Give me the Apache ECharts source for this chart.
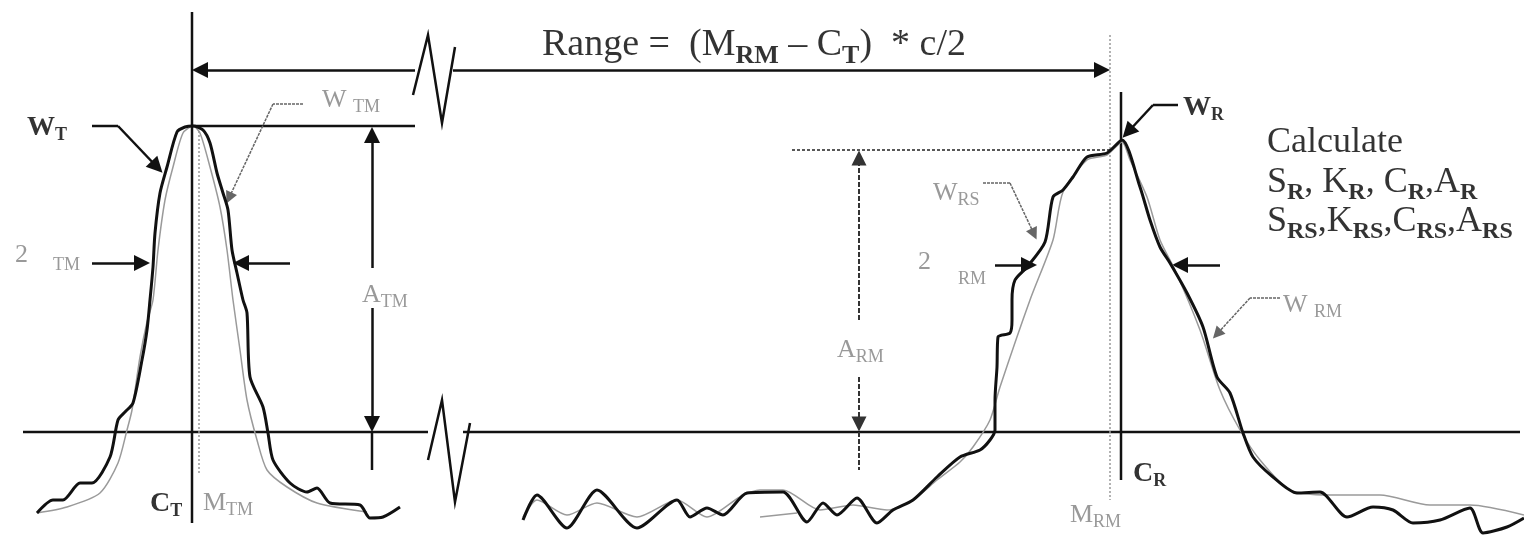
<!DOCTYPE html>
<html><head><meta charset="utf-8">
<script src="https://cdn.jsdelivr.net/npm/echarts@6/dist/echarts.min.js"></script>
<style>html,body{margin:0;padding:0;background:#fff}#c{width:1524px;height:536px}</style>
</head><body><div id="c"></div>
<script>
// ---- waveform data: [time, amplitude] ----
const targetMeasured = [[37,-81],[53,-68],[63,-68],[80,-51],[92,-51],[110,-25],[118,12],[125,20],[133,29],[142,72],[147,102],[150,132],[153,165],[155,199],[160,239],[167,265],[177,300],[185,305],[193,306],[203,302],[210,289],[217,259],[223,239],[228,222],[232,182],[237,159],[243,132],[247,119],[250,55],[263,25],[268,-1],[273,-28],[290,-51],[307,-60],[317,-56],[330,-71],[360,-73],[370,-86],[383,-85],[400,-75]];
const targetSmoothed = [[37,-81],[67,-75],[100,-61],[118,-31],[127,2],[132,22],[140,75],[147,110],[153,132],[158,182],[165,232],[173,265],[183,299],[193,306],[200,299],[210,265],[220,225],[227,182],[233,132],[240,82],[247,32],[257,-8],[267,-38],[287,-55],[317,-71],[367,-80]];
const returnMeasured = [[523,-88],[537,-63],[567,-96],[597,-58],[637,-96],[677,-68],[690,-85],[707,-76],[723,-83],[747,-61],[783,-60],[807,-90],[823,-71],[837,-83],[857,-66],[877,-91],[893,-78],[913,-68],[937,-45],[960,-25],[980,-18],[990,-8],[995,2],[995,32],[997,65],[998,95],[1010,99],[1012,112],[1012,132],[1015,152],[1027,165],[1045,190],[1053,235],[1063,242],[1073,255],[1087,275],[1107,279],[1122,292],[1140,245],[1150,212],[1160,185],[1170,169],[1187,139],[1203,105],[1217,55],[1230,39],[1243,-1],[1253,-25],[1273,-45],[1297,-61],[1320,-60],[1347,-85],[1373,-75],[1393,-78],[1413,-91],[1440,-88],[1470,-76],[1483,-101],[1507,-95],[1524,-86]];
const returnSmoothed = [[523,-85],[537,-68],[567,-83],[597,-71],[637,-85],[677,-68],[707,-85],[740,-65],[760,-58],[783,-58],[820,-78],[853,-73],[887,-78],[913,-68],[937,-48],[960,-30],[973,-15],[990,12],[1000,45],[1030,132],[1053,192],[1063,240],[1087,272],[1107,277],[1122,290],[1130,272],[1147,235],[1160,192],[1175,162],[1200,102],[1220,42],[1240,2],[1260,-28],[1290,-58],[1330,-63],[1380,-63],[1430,-73],[1470,-73],[1524,-83]];
const smoothedStub = [[760,-85],[797,-81]];

// ---- reference / construction lines ----
const solidLines = [
  [[23,0],[428,0]], [[463,0],[1520,0]],                 // baseline (broken)
  [[192,420],[192,-91]],                                  // C_T
  [[1121,340],[1121,-48]],                                // C_R
  [[192,306],[415,306]],                                  // target peak level
  [[413,337],[428,397],[442,309],[455,385]],              // upper break mark
  [[428,-28],[442,32],[455,-70],[470,9]],                 // lower break mark
  [[92,306],[118,306]],                                   // W_T leader
  [[1178,327],[1153,327]],                                // W_R leader
  [[372,0],[372,-38]]                                     // A_TM tail
];
const arrowLines = [
  [[415,362],[200,362]], [[453,362],[1102,362]],         // range arrow
  [[118,306],[157,265]],                                  // W_T
  [[1153,327],[1128,300]],                                // W_R
  [[92,169],[142,169]], [[290,169],[241,169]],            // 2σ_TM
  [[995,167],[1029,167]], [[1220,167],[1180,167]],        // 2σ_RM
  [[372,164],[372,297]], [[372,124],[372,8]]              // A_TM
];
const dashedArrowLines = [
  [[859,112],[859,274]], [[859,55],[859,8]]               // A_RM
];
const dashedLines = [[[859,0],[859,-38]]];
const dottedBlack = [[[792,282],[1110,282]]];
const dottedGray = [[[199,305],[199,-43]], [[1110,397],[1110,-68]]];
const grayLeaders = [
  [[303,328],[273,328]], [[983,249],[1010,249]], [[1280,134],[1250,134]]
];
const grayArrows = [
  [[273,328],[229,234]], [[1010,249],[1034,198]], [[1250,134],[1217,98]]
];

// ---- annotations: [time, amplitude, text] ----
const labels = [
  [542, 384, '{T|Range =  (M}{Ts|RM}{T| \u2013 C}{Ts|T}{T|)  * c/2}'],
  [27, 303, '{B|W}{Bs|T}'],
  [322, 330, '{G|W }{Gs|TM}'],
  [15, 177, '{G|2}'], [53, 167, '{g|TM}'],
  [362, 135, '{G|A}{Gs|TM}'],
  [150, -73, '{B|C}{Bs|T}'],
  [203, -73, '{G|M}{Gs|TM}'],
  [837, 80, '{G|A}{Gs|RM}'],
  [933, 237, '{G|W}{Gs|RS}'],
  [918, 170, '{G|2}'], [958, 153, '{g|RM}'],
  [1183, 323, '{B|W}{Bs|R}'],
  [1267, 289, '{C|Calculate}'],
  [1267, 247, '{C|S}{Cs|R}{C|, K}{Cs|R}{C|, C}{Cs|R}{C|,A}{Cs|R}'],
  [1267, 208, '{C|S}{Cs|RS}{C|,K}{Cs|RS}{C|,C}{Cs|RS}{C|,A}{Cs|RS}'],
  [1283, 125, '{G|W }{Gs|RM}'],
  [1133, -43, '{B|C}{Bs|R}'],
  [1070, -85, '{G|M}{Gs|RM}']
];

const SERIF = '"Liberation Serif", "DejaVu Serif", serif';
function mainStyle(size, color, weight) {
  return {fontFamily: SERIF, fontSize: size, lineHeight: size, color: color, fontWeight: weight || 'normal', verticalAlign: 'top'};
}
// subscript: bottom-aligned token with a taller line box, so its glyphs sit below the main baseline
function subStyle(F, f, drop, color, weight) {
  return {fontFamily: SERIF, fontSize: f, lineHeight: Math.round(drop + 0.3 * (F - f) + (F + f) / 2),
          color: color, fontWeight: weight || 'normal', verticalAlign: 'bottom'};
}
const rich = {
  T: mainStyle(38, '#000'), Ts: subStyle(38, 26, 7, '#000', 'bold'),
  C: mainStyle(36, '#000'), Cs: subStyle(36, 24, 6, '#000', 'bold'),
  B: mainStyle(28, '#000', 'bold'), Bs: subStyle(28, 18, 5, '#000', 'bold'),
  G: mainStyle(26, '#808080'), Gs: subStyle(26, 18, 5, '#808080'),
  g: mainStyle(18, '#808080')
};

function linesSeries(segs, style, arrows, z, size) {
  return {
    type: 'lines', coordinateSystem: 'cartesian2d', polyline: !arrows, z: z || 3,
    symbol: arrows ? ['none', 'triangle'] : ['none', 'none'], symbolSize: arrows ? (size || 16) : 0,
    lineStyle: Object.assign({opacity: 1, curveness: 0}, style),
    itemStyle: {color: style.color},
    silent: true,
    data: segs.map(c => ({coords: c}))
  };
}
function curve(data, color, width, z) {
  return {type: 'line', data: data, smooth: 0.25, showSymbol: false, symbol: 'none', z: z,
          lineStyle: {color: color, width: width}, silent: true};
}

const option = {
  animation: false,
  backgroundColor: '#fff',
  grid: {left: 0, right: 0, top: 0, bottom: 0},
  xAxis: {type: 'value', min: 0, max: 1524, show: false},
  yAxis: {type: 'value', min: -104, max: 432, show: false},
  series: [
    linesSeries(solidLines, {color: '#111', width: 2.5}, false, 2),
    linesSeries(dashedLines, {color: '#333', width: 2, type: [5, 2]}, false, 2),
    linesSeries(dottedBlack, {color: '#222', width: 1.5, type: [3, 2]}, false, 2),
    linesSeries(dottedGray, {color: '#999', width: 1.5, type: [2, 2]}, false, 2),
    linesSeries(grayLeaders, {color: '#666', width: 1.5, type: [3, 1]}, false, 2),
    linesSeries(arrowLines, {color: '#111', width: 2.5}, true, 3, 16),
    linesSeries(dashedArrowLines, {color: '#333', width: 2, type: [5, 2]}, true, 3, 15),
    linesSeries(grayArrows, {color: '#666', width: 1.5, type: [3, 1]}, true, 3, 12),
    curve(targetSmoothed, '#9a9a9a', 1.5, 4),
    curve(returnSmoothed, '#9a9a9a', 1.5, 4),
    curve(smoothedStub, '#9a9a9a', 1.5, 4),
    curve(targetMeasured, '#111', 3, 5),
    curve(returnMeasured, '#111', 3, 5),
    {
      type: 'scatter', symbolSize: 0, z: 6, silent: true,
      data: labels.map(l => ({value: [l[0], l[1]], name: l[2]})),
      label: {show: true, position: 'right', distance: 0, formatter: p => p.name, rich: rich}
    }
  ]
};
echarts.init(document.getElementById('c')).setOption(option);
</script></body></html>
